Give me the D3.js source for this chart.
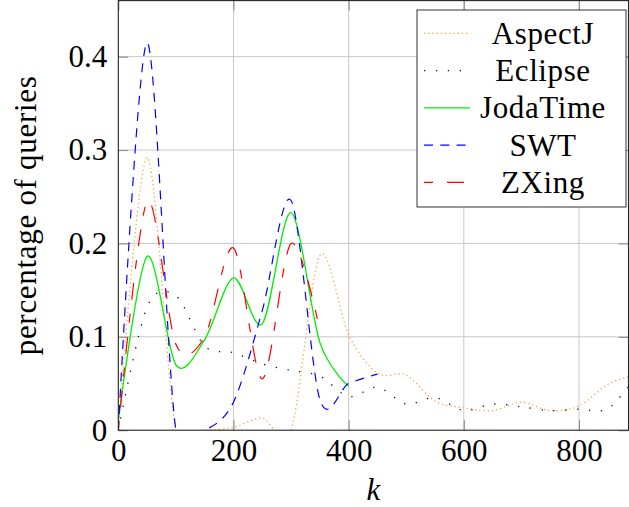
<!DOCTYPE html>
<html>
<head>
<meta charset="utf-8">
<script src="https://cdn.jsdelivr.net/npm/d3@7"></script>
<style>
  body { margin: 0; background: #fff; }
  svg { display: block; }
</style>
</head>
<body>
<svg id="chart" width="629" height="507"></svg>
<script>
// values, one entry every 50 queries
var kSteps   = [0, 50, 100, 150, 200, 250, 300, 350, 400, 450, 500, 550, 600, 650, 700, 750, 800, 850, 900];
var aspectJ  = [0, 0.292, 0, 0, 0.003, 0.013, 0, 0.187, 0.102, 0.061, 0.059, 0.031, 0.024, 0.021, 0.030, 0.021, 0.026, 0.049, 0.060];
var eclipse  = [0, 0.132, 0.144, 0.090, 0.083, 0.071, 0.064, 0.058, 0.036, 0.046, 0.028, 0.035, 0.021, 0.028, 0.025, 0.021, 0.0225, 0.023, 0.058];
var jodaTime = [0.01, 0.186, 0.070, 0.097, 0.163, 0.114, 0.233, 0.094, 0.047];
var swt      = [0, 0.415, 0, 0, 0.030, 0.128, 0.246, 0.033, 0.050, 0.060];
var zxing    = [0, 0.245, 0.092, 0.100, 0.195, 0.055, 0.200, 0.107];

var xTicks = [0, 200, 400, 600, 800];
var yTicks = [0, 0.1, 0.2, 0.3, 0.4];

var series = [
  { name: "AspectJ",  values: aspectJ,  color: "#ff9a3c", dash: "1.3,2.9",      width: 1.2 },
  { name: "Eclipse",  values: eclipse,  color: "#111",    dash: "1.3,10.6",     width: 1.3 },
  { name: "JodaTime", values: jodaTime, color: "#00ee00", dash: null,           width: 1.3 },
  { name: "SWT",      values: swt,      color: "#0000ff", dash: "9,7.3",        width: 1.2 },
  { name: "ZXing",    values: zxing,    color: "#ff0000", dash: "9,14,17,14",   width: 1.2 }
];

var serif = "'Liberation Serif', 'Times New Roman', 'DejaVu Serif', serif";

var svg = d3.select("#chart");
var plotL = 118.3, plotR = 628.5, plotT = 0.6, plotB = 430.2;

var x = d3.scaleLinear().domain([0, 886]).range([plotL, plotR]);
var y = d3.scaleLinear().domain([0, 0.46]).range([plotB, plotT]);

svg.append("defs").append("clipPath").attr("id", "plotclip")
  .append("rect")
    .attr("x", plotL).attr("y", plotT)
    .attr("width", plotR - plotL).attr("height", plotB - plotT);

// grid
var grid = svg.append("g");
grid.selectAll(".gx").data(xTicks.slice(1)).enter().append("line")
  .attr("x1", function(d) { return x(d); }).attr("x2", function(d) { return x(d); })
  .attr("y1", plotT).attr("y2", plotB)
  .attr("stroke", "#c8c8c8").attr("stroke-width", 1);
grid.selectAll(".gy").data(yTicks.slice(1)).enter().append("line")
  .attr("y1", function(d) { return y(d); }).attr("y2", function(d) { return y(d); })
  .attr("x1", plotL).attr("x2", plotR)
  .attr("stroke", "#c8c8c8").attr("stroke-width", 1);

// curves
var line = d3.line()
  .x(function(d) { return x(d[0]); })
  .y(function(d) { return y(d[1]); })
  .curve(d3.curveCardinal.tension(0.08));

var plots = svg.append("g").attr("clip-path", "url(#plotclip)");
series.forEach(function(s) {
  var pts = s.values.map(function(v, i) { return [kSteps[i], v]; });
  plots.append("path")
    .attr("d", line(pts))
    .attr("fill", "none")
    .attr("stroke", s.color)
    .attr("stroke-width", s.width)
    .attr("stroke-dasharray", s.dash);
});

// axes: labels outside, gray ticks inside on all four sides
var tickLen = 10;
var xAxis = svg.append("g").attr("transform", "translate(0," + plotB + ")")
  .call(d3.axisBottom(x).tickValues(xTicks).tickSizeInner(-tickLen).tickSizeOuter(0).tickPadding(9));
var xTop = svg.append("g").attr("transform", "translate(0," + plotT + ")")
  .call(d3.axisTop(x).tickValues(xTicks).tickSizeInner(-tickLen).tickSizeOuter(0).tickFormat(""));
var yAxis = svg.append("g").attr("transform", "translate(" + plotL + ",0)")
  .call(d3.axisLeft(y).tickValues(yTicks).tickSizeInner(-tickLen).tickSizeOuter(0).tickPadding(11)
    .tickFormat(function(d) { return d === 0 ? "0" : d3.format(".1f")(d); }));
var yRight = svg.append("g").attr("transform", "translate(" + plotR + ",0)")
  .call(d3.axisRight(y).tickValues(yTicks).tickSizeInner(-tickLen).tickSizeOuter(0).tickFormat(""));

[xAxis, xTop, yAxis, yRight].forEach(function(g) {
  g.attr("font-family", null);
  g.select(".domain").remove();
  g.selectAll(".tick line").attr("stroke", "#8c8c8c").attr("stroke-width", 1.1);
  g.selectAll(".tick text").style("font-family", serif).style("font-size", "31px").attr("fill", "#000");
});

svg.append("rect")
  .attr("x", plotL).attr("y", plotT)
  .attr("width", plotR - plotL).attr("height", plotB - plotT)
  .attr("fill", "none").attr("stroke", "#222").attr("stroke-width", 1.1);

// axis titles
svg.append("text")
  .attr("x", (plotL + plotR) / 2).attr("y", 500)
  .attr("text-anchor", "middle")
  .style("font-family", serif).style("font-size", "31px").style("font-style", "italic")
  .text("k");

svg.append("text")
  .attr("transform", "translate(36," + ((plotT + plotB) / 2) + ") rotate(-90)")
  .attr("text-anchor", "middle")
  .style("font-family", serif).style("font-size", "31px").style("letter-spacing", "0.7px")
  .text("percentage of queries");

// legend
var legend = svg.append("g");
legend.append("rect")
  .attr("x", 417).attr("y", 10).attr("width", 209).attr("height", 197)
  .attr("fill", "#fff").attr("stroke", "#333").attr("stroke-width", 1);

series.forEach(function(s, i) {
  var cy = 33.3 + i * 37.25;
  legend.append("line")
    .attr("x1", 424).attr("x2", 470).attr("y1", cy).attr("y2", cy)
    .attr("stroke", s.color).attr("stroke-width", s.width)
    .attr("stroke-dasharray", s.dash);
  legend.append("text")
    .attr("x", 543).attr("y", cy + 10.5)
    .attr("text-anchor", "middle")
    .style("font-family", serif).style("font-size", "31px").style("letter-spacing", "0.6px")
    .text(s.name);
});
</script>
</body>
</html>
